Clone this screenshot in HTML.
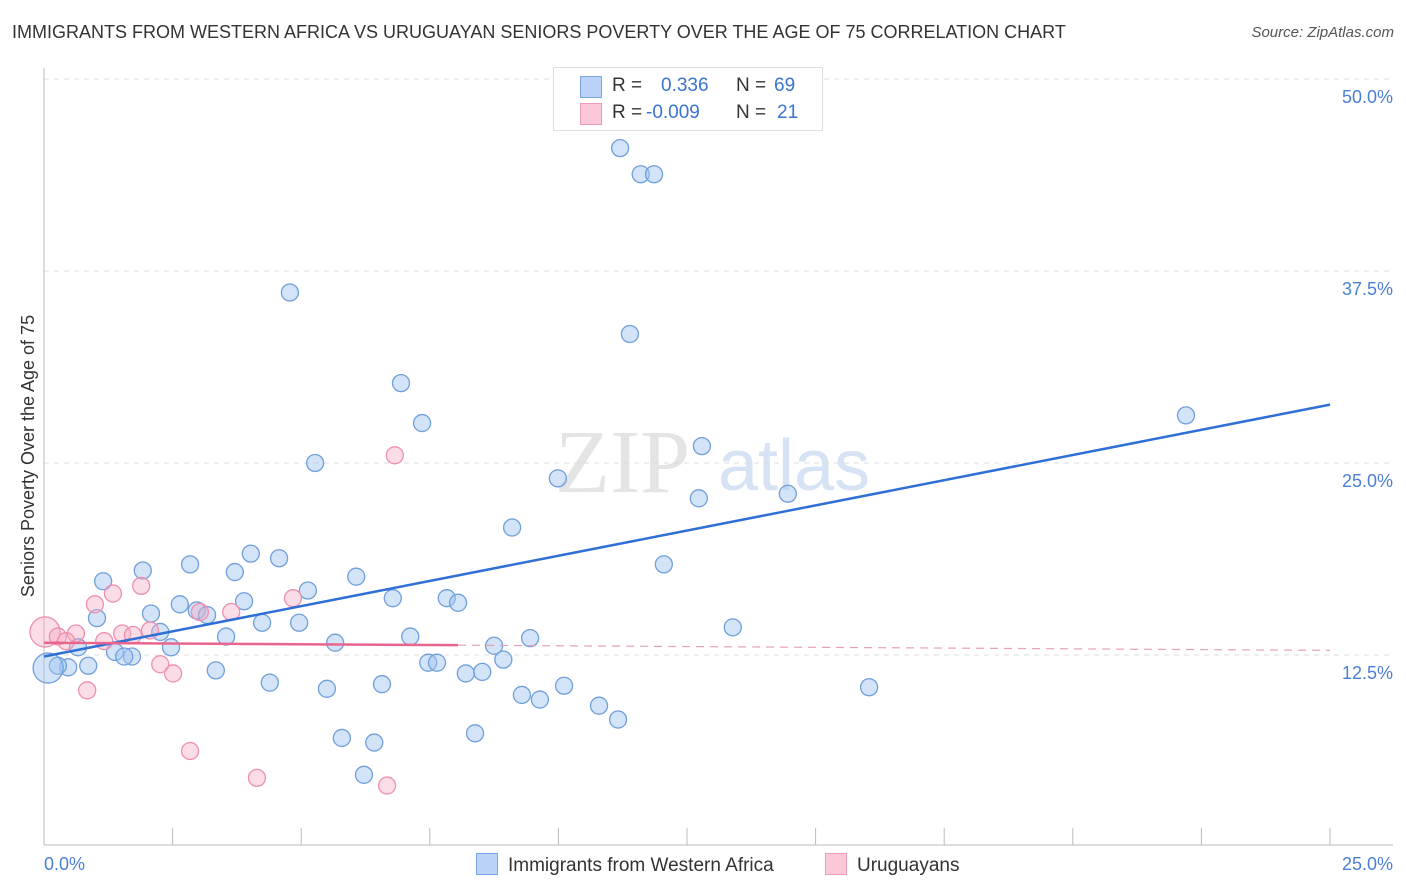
<!DOCTYPE html>
<html><head><meta charset="utf-8"><style>
body{margin:0;background:#fff;font-family:"Liberation Sans",sans-serif;}
#wrap{position:relative;width:1406px;height:892px;overflow:hidden;}
.t{position:absolute;white-space:nowrap;}
</style></head><body>
<div id="wrap">
<div class="t" style="left:12px;top:22px;font-size:18px;color:#333;">IMMIGRANTS FROM WESTERN AFRICA VS URUGUAYAN SENIORS POVERTY OVER THE AGE OF 75 CORRELATION CHART</div>
<div class="t" style="right:12px;top:24px;font-size:15px;color:#555;font-style:italic;">Source: ZipAtlas.com</div>
<svg id="svg" width="1406" height="892" style="position:absolute;left:0;top:0;"></svg>
</div>
<script>
const blueX=[11.2,11.6,11.86,4.78,11.39,6.94,22.2,7.35,12.79,5.27,9.99,12.73,14.46,9.1,4.02,4.57,2.84,12.05,1.92,3.71,1.15,6.07,5.13,6.78,7.83,8.05,2.64,3.89,2.97,2.08,3.17,1.03,4.24,4.96,13.39,2.26,3.54,7.12,9.45,5.66,8.75,2.47,0.66,1.38,1.71,1.56,8.93,7.47,7.64,0.86,0.47,0.27,0.08,3.34,8.2,8.52,4.39,6.57,5.5,10.11,16.04,9.29,9.64,10.79,11.16,8.38,5.79,6.42,6.22];
const blueY=[45.5,43.8,43.8,36.1,33.4,30.2,28.1,27.6,26.1,25.0,24.0,22.7,23.0,20.8,19.1,18.8,18.4,18.4,18.0,17.9,17.3,17.6,16.7,16.2,16.2,15.9,15.8,16.0,15.4,15.2,15.1,14.9,14.6,14.6,14.3,14.0,13.7,13.7,13.6,13.3,13.1,13.0,13.0,12.7,12.4,12.4,12.2,12.0,12.0,11.8,11.7,11.8,11.65,11.5,11.3,11.4,10.7,10.6,10.3,10.5,10.4,9.9,9.6,9.2,8.3,7.4,7.1,6.8,4.7];
const pinkX=[6.82,1.89,1.34,4.84,0.99,3.64,3.03,2.06,1.52,0.62,1.73,0.02,0.27,0.43,1.17,2.26,2.51,0.84,2.84,4.14,6.67];
const pinkY=[25.5,17.0,16.5,16.2,15.8,15.3,15.3,14.1,13.9,13.9,13.8,14.0,13.7,13.4,13.4,11.9,11.3,10.2,6.25,4.5,4.0];
const blueTrend=[12.4,28.8];
const pinkTrend=[13.3,12.8];
const yTicks=[12.5,25,37.5,50];
const yTickLabels=["12.5%","25.0%","37.5%","50.0%"];
const xTicks=[0,2.5,5,7.5,10,12.5,15,17.5,20,22.5,25];

const NS="http://www.w3.org/2000/svg";
const svg=document.getElementById('svg');
const X=v=>44+v/25*1286;
const Y=v=>847-v/12.5*192;
function mk(tag,a){const e=document.createElementNS(NS,tag);for(const k in a)e.setAttribute(k,a[k]);svg.appendChild(e);return e;}

// watermark
let wm=mk('text',{x:555,y:492,'font-size':90,'font-family':'Liberation Serif,serif',fill:'#e4e4e4'});wm.textContent='ZIP';


let wm2=mk('text',{x:718,y:490,'font-size':72,'font-family':'Liberation Sans,sans-serif',fill:'#d6e3f5'});wm2.textContent='atlas';



// grid
yTicks.forEach((v,i)=>{
  const g=mk('line',{x1:44,x2:1393,y1:Y(v),y2:Y(v),stroke:'#ddd','stroke-dasharray':'5,5'});
  
  
  const t=mk('text',{x:1393,y:Y(v)+24,'text-anchor':'end','font-size':18,fill:'#4a7fd4','font-family':'Liberation Sans,sans-serif'});
  t.textContent=yTickLabels[i];
  
  
});
let ax=mk('line',{x1:44,x2:44,y1:68,y2:845,stroke:'#bbb'});


let bx=mk('line',{x1:44,x2:1393,y1:845,y2:845,stroke:'#bbb'});


xTicks.forEach(v=>{
  const l=mk('line',{x1:X(v),x2:X(v),y1:828,y2:845,stroke:'#bbb'});
  
  
});

function dots(xs,ys,fill,stroke,name){
  xs.forEach((x,i)=>{
    const big=(x<0.1);
    const c=mk('circle',{cx:X(x),cy:Y(ys[i]),r:big?15:8.5,fill:fill,stroke:stroke,'stroke-width':1.3});
    
    
  });
}
dots(blueX,blueY,'rgba(160,195,240,0.45)','#6f9fdc','point-western-africa');
dots(pinkX,pinkY,'rgba(246,170,196,0.4)','#ef8fae','point-uruguayans');

let bt=mk('line',{x1:X(0),y1:Y(blueTrend[0]),x2:X(25),y2:Y(blueTrend[1]),stroke:'#2f6fd6','stroke-width':2.5});


const pm=pinkTrend[0]+(pinkTrend[1]-pinkTrend[0])*8.05/25;
let pt=mk('line',{x1:X(0),y1:Y(pinkTrend[0]),x2:X(8.05),y2:Y(pm),stroke:'#e8658e','stroke-width':2.5});


let pd=mk('line',{x1:X(8.05),y1:Y(pm),x2:X(25),y2:Y(pinkTrend[1]),stroke:'#e8a0b8','stroke-width':1.2,'stroke-dasharray':'8,6'});



let xl=mk('text',{x:44,y:870,'font-size':18,fill:'#4a7fd4','font-family':'Liberation Sans,sans-serif'});xl.textContent='0.0%';


let xr=mk('text',{x:1393,y:870,'text-anchor':'end','font-size':18,fill:'#4a7fd4','font-family':'Liberation Sans,sans-serif'});xr.textContent='25.0%';


let yt=mk('text',{x:0,y:0,transform:'translate(34,456) rotate(-90)','text-anchor':'middle','font-size':18,fill:'#333','font-family':'Liberation Sans,sans-serif'});yt.textContent='Seniors Poverty Over the Age of 75';


</script>
<div class="t" style="left:553px;top:67px;width:268px;height:62px;border:1px solid #ddd;background:#fff;font-size:19px;">
 <div style="position:absolute;left:26px;top:8px;width:20px;height:20px;background:#b9d2f6;border:1px solid #7aa6e6;"></div>
 <div class="t" style="left:58px;top:7px;color:#333;">R =</div>
 <div class="t" style="left:107px;top:7px;color:#3a74d2;">0.336</div>
 <div class="t" style="left:182px;top:7px;color:#333;">N =</div>
 <div class="t" style="left:220px;top:7px;color:#3a74d2;">69</div>
 <div style="position:absolute;left:26px;top:35px;width:20px;height:20px;background:#fbc8d7;border:1px solid #ef9ab6;"></div>
 <div class="t" style="left:58px;top:34px;color:#333;">R =</div>
 <div class="t" style="left:92px;top:34px;color:#3a74d2;">-0.009</div>
 <div class="t" style="left:182px;top:34px;color:#333;">N =</div>
 <div class="t" style="left:223px;top:34px;color:#3a74d2;">21</div>
</div>
<div class="t" style="left:476px;top:853px;font-size:19px;color:#333;"><span style="display:inline-block;width:20px;height:20px;background:#b9d2f6;border:1px solid #7aa6e6;vertical-align:-4px;margin-right:10px;"></span>Immigrants from Western Africa</div>
<div class="t" style="left:825px;top:853px;font-size:19px;color:#333;"><span style="display:inline-block;width:20px;height:20px;background:#fbc8d7;border:1px solid #ef9ab6;vertical-align:-4px;margin-right:10px;"></span>Uruguayans</div>
</body></html>
